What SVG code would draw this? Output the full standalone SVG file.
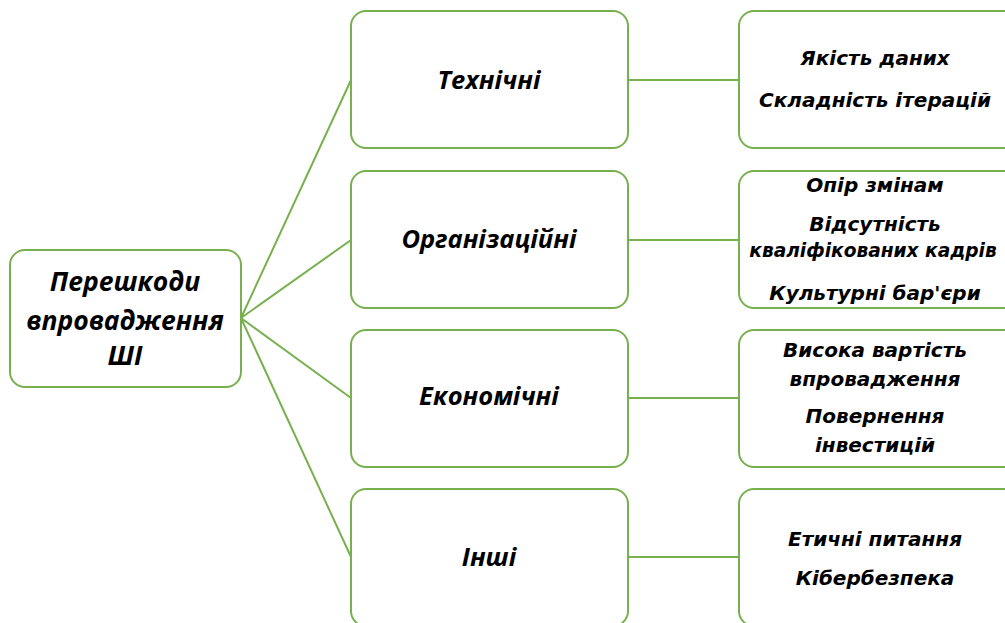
<svg xmlns="http://www.w3.org/2000/svg" width="1005" height="623" viewBox="0 0 1005 623">
<style>
.box{fill:#fff;stroke:#78b04f;stroke-width:2}
.ln{stroke:#78b04f;stroke-width:2;fill:none}
.t{font-family:"Open Sans","Noto Sans",sans-serif;font-weight:bold;font-style:italic;fill:#000;text-anchor:middle}
.big{font-size:26.5px}
.mid{font-size:25.5px}
.sm{font-size:20px;font-family:"DejaVu Sans","Noto Sans",sans-serif}
</style>
<rect width="1005" height="623" fill="#fff"/>
<g id="connectors">
<path class="ln" d="M241 318 L351 80 M241 318 L351 240 M241 318 L351 398 M241 318 L351 557"/>
<path class="ln" d="M628 80 H739 M628 240 H739 M628 398 H739 M628 557 H739"/>
</g>
<g id="root">
<rect class="box" x="10" y="250" width="231" height="137" rx="15"/>
<text class="t big" x="125" y="291">Перешкоди</text>
<text class="t big" x="125" y="330">впровадження</text>
<text class="t big" x="125" y="365">ШІ</text>
</g>
<g id="tech">
<rect class="box" x="351" y="11" width="277" height="137" rx="15"/>
<text class="t mid" x="489" y="89">Технічні</text>
</g>
<g id="org">
<rect class="box" x="351" y="171" width="277" height="137" rx="15"/>
<text class="t mid" x="489" y="248">Організаційні</text>
</g>
<g id="econ">
<rect class="box" x="351" y="330" width="277" height="137" rx="15"/>
<text class="t mid" x="489" y="405">Економічні</text>
</g>
<g id="other">
<rect class="box" x="351" y="489" width="277" height="137" rx="15"/>
<text class="t mid" x="489" y="566">Інші</text>
</g>
<g id="tech-items">
<rect class="box" x="739" y="11" width="300" height="137" rx="15"/>
<text class="t sm" x="875" y="65">Якість даних</text>
<text class="t sm" x="875" y="107">Складність ітерацій</text>
</g>
<g id="org-items">
<rect class="box" x="739" y="171" width="300" height="137" rx="15"/>
<text class="t sm" x="875" y="192">Опір змінам</text>
<text class="t sm" x="875" y="231">Відсутність</text>
<text class="t sm" x="873" y="257" style="font-size:18.6px">кваліфікованих кадрів</text>
<text class="t sm" x="875" y="300">Культурні бар'єри</text>
</g>
<g id="econ-items">
<rect class="box" x="739" y="330" width="300" height="137" rx="15"/>
<text class="t sm" x="875" y="357">Висока вартість</text>
<text class="t sm" x="875" y="386">впровадження</text>
<text class="t sm" x="875" y="423">Повернення</text>
<text class="t sm" x="875" y="452">інвестицій</text>
</g>
<g id="other-items">
<rect class="box" x="739" y="489" width="300" height="137" rx="15"/>
<text class="t sm" x="875" y="546">Етичні питання</text>
<text class="t sm" x="875" y="585">Кібербезпека</text>
</g>
</svg>
